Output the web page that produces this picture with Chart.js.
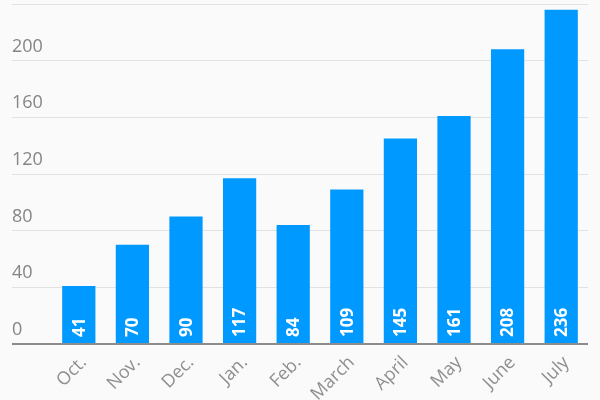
<!DOCTYPE html>
<html>
<head>
<meta charset="utf-8">
<script src="https://cdn.jsdelivr.net/npm/chart.js@4"></script>
<style>
  body { margin: 0; background: #fafafa; }
  canvas { display: block; }
</style>
</head>
<body>
<canvas id="grafico" width="600" height="400"></canvas>
<script>
// dados
const meses = ["Oct.", "Nov.", "Dec.", "Jan.", "Feb.", "March", "April", "May", "June", "July"]
const valores = [41, 70, 90, 117, 84, 109, 145, 161, 208, 236]
const ticksY = [0, 40, 80, 120, 160, 200, 240]

const azul = "#0099ff"

// escreve o valor dentro da barra, rotacionado
const rotulosBarras = {
    id: "rotulosBarras",
    afterDatasetsDraw(chart) {
        let ctx = chart.ctx
        let meta = chart.getDatasetMeta(0)
        ctx.save()
        ctx.fillStyle = "#ffffff"
        ctx.font = "bold 17px 'Open Sans'"
        ctx.textAlign = "left"
        ctx.textBaseline = "middle"
        meta.data.forEach((barra, i) => {
            ctx.save()
            ctx.translate(barra.x, barra.base - 6)
            ctx.rotate(-Math.PI / 2)
            ctx.fillText(String(valores[i]), 0, 1)
            ctx.restore()
        })
        ctx.restore()
    }
}

new Chart(document.getElementById("grafico"), {
    type: "bar",
    data: {
        labels: meses,
        datasets: [{
            data: valores,
            backgroundColor: azul,
            borderWidth: 0,
            categoryPercentage: 0.62,
            barPercentage: 1
        }]
    },
    options: {
        responsive: false,
        animation: false,
        layout: { padding: { left: 12, right: 12, top: 4, bottom: 0 } },
        plugins: {
            legend: { display: false },
            tooltip: { enabled: false }
        },
        scales: {
            x: {
                grid: { display: false },
                border: { display: false },
                ticks: {
                    color: "#8f8f8f",
                    font: { family: "'Open Sans'", size: 18 },
                    minRotation: 45,
                    maxRotation: 45,
                    padding: 0,
                    labelOffset: 5
                },
                afterFit: (scale) => { scale.height = 56 }
            },
            y: {
                min: 0,
                max: 240,
                afterBuildTicks: (scale) => {
                    scale.ticks = ticksY.map(v => ({ value: v }))
                },
                border: { display: false },
                grid: {
                    tickLength: 40,
                    color: (c) => c.tick && c.tick.value === 0 ? "#8c8c8c" : "#e2e2e2",
                    lineWidth: (c) => c.tick && c.tick.value === 0 ? 2 : 1
                },
                ticks: {
                    color: "#858585",
                    font: { family: "'Open Sans'", size: 18 },
                    crossAlign: "far",
                    labelOffset: -14,
                    padding: 0,
                    callback: (v) => v === 240 ? "" : v
                },
                afterFit: (scale) => {
                    scale.width = 40
                    scale.paddingTop = 0
                    scale.paddingBottom = 0
                }
            }
        }
    },
    plugins: [rotulosBarras]
})
</script>
</body>
</html>
